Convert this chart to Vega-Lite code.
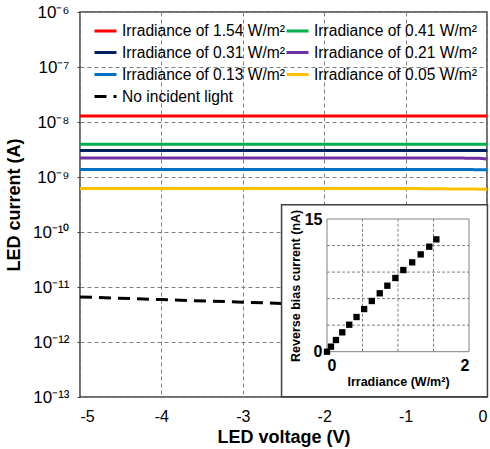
{
  "$schema": "https://vega.github.io/schema/vega-lite/v6.json",
  "autosize": "none",
  "width": 407,
  "height": 385,
  "padding": {"left": 80, "top": 12, "right": 3, "bottom": 52},
  "background": "white",
  "config": {
    "font": "Liberation Sans",
    "view": {"stroke": "#404040", "strokeWidth": 1.5},
    "axis": {"labelFont": "Liberation Sans", "titleFont": "Liberation Sans", "labelColor": "#000", "titleColor": "#000"}
  },
  "layer": [
    {
      "data": {"values": [
        {"series": "Irradiance of 1.54 W/m²", "V": -5, "I": 1.28e-8},
        {"series": "Irradiance of 1.54 W/m²", "V": -4, "I": 1.28e-8},
        {"series": "Irradiance of 1.54 W/m²", "V": -3, "I": 1.28e-8},
        {"series": "Irradiance of 1.54 W/m²", "V": -2, "I": 1.28e-8},
        {"series": "Irradiance of 1.54 W/m²", "V": -1, "I": 1.28e-8},
        {"series": "Irradiance of 1.54 W/m²", "V": 0, "I": 1.28e-8},
        {"series": "Irradiance of 0.41 W/m²", "V": -5, "I": 3.95e-9},
        {"series": "Irradiance of 0.41 W/m²", "V": -4, "I": 3.95e-9},
        {"series": "Irradiance of 0.41 W/m²", "V": -3, "I": 3.95e-9},
        {"series": "Irradiance of 0.41 W/m²", "V": -2, "I": 3.95e-9},
        {"series": "Irradiance of 0.41 W/m²", "V": -1, "I": 3.95e-9},
        {"series": "Irradiance of 0.41 W/m²", "V": 0, "I": 3.95e-9},
        {"series": "Irradiance of 0.31 W/m²", "V": -5, "I": 3.04e-9},
        {"series": "Irradiance of 0.31 W/m²", "V": -4, "I": 3.04e-9},
        {"series": "Irradiance of 0.31 W/m²", "V": -3, "I": 3.04e-9},
        {"series": "Irradiance of 0.31 W/m²", "V": -2, "I": 3.04e-9},
        {"series": "Irradiance of 0.31 W/m²", "V": -1, "I": 3.04e-9},
        {"series": "Irradiance of 0.31 W/m²", "V": 0, "I": 3.04e-9},
        {"series": "Irradiance of 0.21 W/m²", "V": -5, "I": 2.22e-9},
        {"series": "Irradiance of 0.21 W/m²", "V": -4, "I": 2.22e-9},
        {"series": "Irradiance of 0.21 W/m²", "V": -3, "I": 2.22e-9},
        {"series": "Irradiance of 0.21 W/m²", "V": -2, "I": 2.22e-9},
        {"series": "Irradiance of 0.21 W/m²", "V": -1, "I": 2.22e-9},
        {"series": "Irradiance of 0.21 W/m²", "V": -0.1, "I": 2.2e-9},
        {"series": "Irradiance of 0.21 W/m²", "V": 0, "I": 2.12e-9},
        {"series": "Irradiance of 0.13 W/m²", "V": -5, "I": 1.37e-9},
        {"series": "Irradiance of 0.13 W/m²", "V": -4, "I": 1.37e-9},
        {"series": "Irradiance of 0.13 W/m²", "V": -3, "I": 1.37e-9},
        {"series": "Irradiance of 0.13 W/m²", "V": -2, "I": 1.37e-9},
        {"series": "Irradiance of 0.13 W/m²", "V": -1, "I": 1.37e-9},
        {"series": "Irradiance of 0.13 W/m²", "V": 0, "I": 1.36e-9},
        {"series": "Irradiance of 0.05 W/m²", "V": -5, "I": 6.2e-10},
        {"series": "Irradiance of 0.05 W/m²", "V": -4, "I": 6.2e-10},
        {"series": "Irradiance of 0.05 W/m²", "V": -3, "I": 6.2e-10},
        {"series": "Irradiance of 0.05 W/m²", "V": -2, "I": 6.2e-10},
        {"series": "Irradiance of 0.05 W/m²", "V": -1, "I": 6.2e-10},
        {"series": "Irradiance of 0.05 W/m²", "V": -0.6, "I": 6.1e-10},
        {"series": "Irradiance of 0.05 W/m²", "V": 0, "I": 6.0e-10},
        {"series": "No incident light", "V": -5, "I": 6.6e-12},
        {"series": "No incident light", "V": -4, "I": 5.9e-12},
        {"series": "No incident light", "V": -3, "I": 5.3e-12},
        {"series": "No incident light", "V": -2.5, "I": 5.0e-12},
        {"series": "No incident light", "V": -2, "I": 4.6e-12},
        {"series": "No incident light", "V": -1, "I": 3.9e-12},
        {"series": "No incident light", "V": -0.1, "I": 2.5e-12},
        {"series": "No incident light", "V": 0, "I": 1.1e-13}
      ]},
      "mark": {"type": "line", "strokeWidth": 3},
      "encoding": {
        "x": {
          "field": "V", "type": "quantitative",
          "scale": {"domain": [-5, 0], "nice": false, "zero": false},
          "axis": {
            "values": [-5, -4, -3, -2, -1, 0],
            "labelExpr": "'' + datum.value",
            "labelFontSize": 16, "labelPadding": 11, "ticks": false, "domain": false,
            "grid": true, "gridColor": "#808080", "gridDash": [4, 3], "gridWidth": 1,
            "title": "LED voltage (V)", "titleFontSize": 18, "titleFontWeight": "bold", "titlePadding": 4
          }
        },
        "y": {
          "field": "I", "type": "quantitative",
          "scale": {"type": "log", "domain": [1e-13, 1e-6], "nice": false},
          "axis": {
            "values": [1e-13, 1e-12, 1e-11, 1e-10, 1e-9, 1e-8, 1e-7, 1e-6],
            "labelExpr": "['10⁻¹³','10⁻¹²','10⁻¹¹','10⁻¹⁰','10⁻⁹','10⁻⁸','10⁻⁷','10⁻⁶'][round(log(datum.value)/LN10)+13]",
            "labelFontSize": 17, "labelPadding": 8, "tickSize": 3, "tickColor": "#404040", "domain": false,
            "grid": true, "gridColor": "#808080", "gridDash": [4, 3], "gridWidth": 1,
            "title": "LED current (A)", "titleFontSize": 18, "titleFontWeight": "bold", "titlePadding": 9
          }
        },
        "color": {
          "field": "series", "type": "nominal",
          "scale": {
            "domain": ["Irradiance of 1.54 W/m²", "Irradiance of 0.31 W/m²", "Irradiance of 0.13 W/m²", "No incident light", "Irradiance of 0.41 W/m²", "Irradiance of 0.21 W/m²", "Irradiance of 0.05 W/m²"],
            "range": ["#FF0000", "#002060", "#0070C0", "#000000", "#00B050", "#7030A0", "#FFC000"]
          },
          "legend": {
            "title": null, "orient": "none", "legendX": 13, "legendY": 6, "columns": 2,
            "columnPadding": -9, "rowPadding": 0, "padding": 0,
            "symbolType": "stroke", "symbolSize": 484, "symbolStrokeWidth": 3,
            "labelFontSize": 15.6, "labelColor": "#000", "labelOffset": 4, "labelFont": "Liberation Sans", "labelLimit": 400
          }
        },
        "strokeDash": {
          "field": "series", "type": "nominal",
          "scale": {
            "domain": ["Irradiance of 1.54 W/m²", "Irradiance of 0.31 W/m²", "Irradiance of 0.13 W/m²", "No incident light", "Irradiance of 0.41 W/m²", "Irradiance of 0.21 W/m²", "Irradiance of 0.05 W/m²"],
            "range": [[1, 0], [1, 0], [1, 0], [12, 7], [1, 0], [1, 0], [1, 0]]
          },
          "legend": {
            "title": null, "orient": "none", "legendX": 13, "legendY": 6, "columns": 2,
            "columnPadding": -9, "rowPadding": 0, "padding": 0,
            "symbolType": "stroke", "symbolSize": 484, "symbolStrokeWidth": 3,
            "labelFontSize": 15.6, "labelColor": "#000", "labelOffset": 4, "labelFont": "Liberation Sans", "labelLimit": 400
          }
        }
      }
    },
    {
      "encoding": {
        "x": {
          "field": "irr", "type": "quantitative",
          "scale": {"domain": [0, 2], "range": [247, 389], "nice": false, "zero": false},
          "axis": {
            "orient": "bottom", "offset": -45, "values": [0, 2], "grid": false, "ticks": false, "domain": false, "zindex": 2,
            "labelFontSize": 16, "labelFontWeight": "bold", "labelPadding": 5,
            "title": "Irradiance (W/m²)", "titleFontSize": 12.5, "titleFontWeight": "bold", "titlePadding": 2
          }
        },
        "y": {
          "field": "nA", "type": "quantitative",
          "scale": {"domain": [0, 15], "range": [339.7, 207], "nice": false, "zero": false},
          "axis": {
            "orient": "left", "offset": -247, "values": [0, 15], "grid": false, "ticks": false, "domain": false, "zindex": 2,
            "labelFontSize": 16, "labelFontWeight": "bold", "labelPadding": 5,
            "title": "Reverse bias current (nA)", "titleFontSize": 12.5, "titleFontWeight": "bold", "titlePadding": 2
          }
        }
      },
      "layer": [
        {
          "data": {"values": [{"irr": -0.64, "irr2": 2.26, "nA": -5.1, "nA2": 16.6}]},
          "mark": {"type": "rect", "fill": "white", "stroke": "#404040", "strokeWidth": 1.5},
          "encoding": {"x2": {"field": "irr2"}, "y2": {"field": "nA2"}}
        },
        {
          "data": {"values": [
            {"irr": 0.5, "nA": 0, "nA2": 15},
            {"irr": 1.0, "nA": 0, "nA2": 15},
            {"irr": 1.5, "nA": 0, "nA2": 15}
          ]},
          "mark": {"type": "rule", "stroke": "#808080", "strokeWidth": 1, "strokeDash": [3, 2]},
          "encoding": {"y2": {"field": "nA2"}}
        },
        {
          "data": {"values": [
            {"irr": 0, "irr2": 2, "nA": 3},
            {"irr": 0, "irr2": 2, "nA": 6},
            {"irr": 0, "irr2": 2, "nA": 9},
            {"irr": 0, "irr2": 2, "nA": 12}
          ]},
          "mark": {"type": "rule", "stroke": "#808080", "strokeWidth": 1, "strokeDash": [3, 2]},
          "encoding": {"x2": {"field": "irr2"}}
        },
        {
          "data": {"values": [{"irr": 0, "irr2": 2, "nA": 0, "nA2": 15}]},
          "mark": {"type": "rect", "fill": null, "fillOpacity": 0, "stroke": "#808080", "strokeWidth": 1},
          "encoding": {"x2": {"field": "irr2"}, "y2": {"field": "nA2"}}
        },
        {
          "data": {"values": [
            {"irr": 0.0, "nA": 0.0},
            {"irr": 0.056, "nA": 0.57},
            {"irr": 0.126, "nA": 1.32},
            {"irr": 0.215, "nA": 2.19},
            {"irr": 0.313, "nA": 3.05},
            {"irr": 0.416, "nA": 3.92},
            {"irr": 0.523, "nA": 4.82},
            {"irr": 0.631, "nA": 5.73},
            {"irr": 0.743, "nA": 6.6},
            {"irr": 0.85, "nA": 7.46},
            {"irr": 0.963, "nA": 8.33},
            {"irr": 1.075, "nA": 9.23},
            {"irr": 1.2, "nA": 10.1},
            {"irr": 1.32, "nA": 11.0},
            {"irr": 1.44, "nA": 11.87},
            {"irr": 1.54, "nA": 12.7}
          ]},
          "mark": {"type": "square", "size": 40, "color": "#000", "opacity": 1, "filled": true}
        }
      ]
    }
  ],
  "resolve": {"scale": {"x": "independent", "y": "independent"}}
}
